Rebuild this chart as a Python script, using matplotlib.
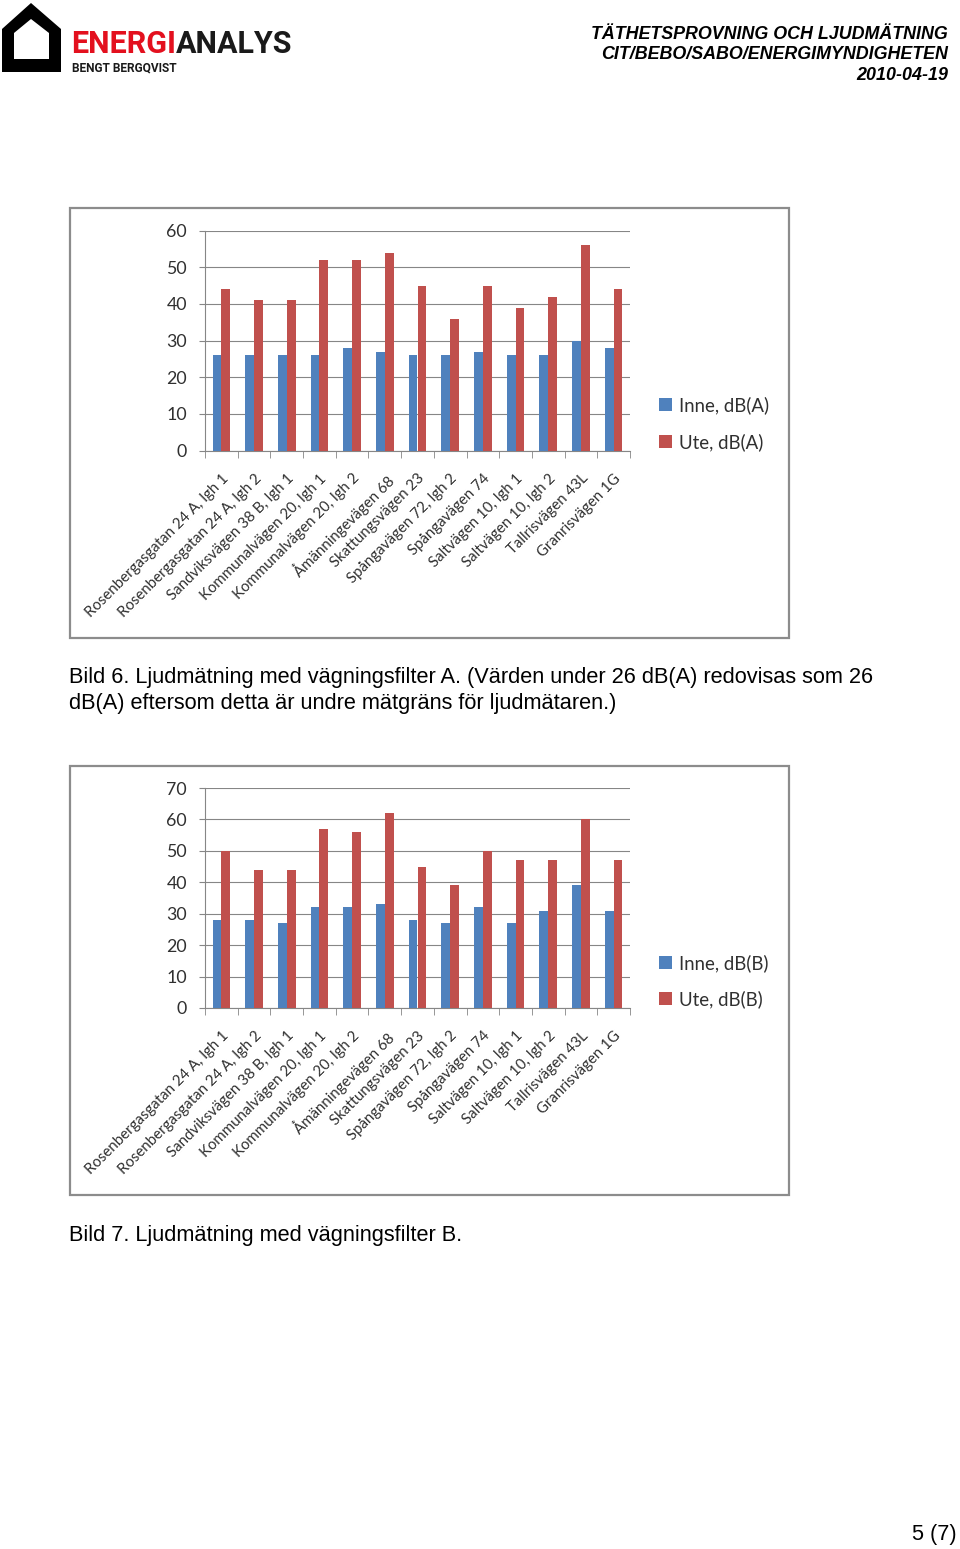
"""Bild 6 / Bild 7 - ljudmätning med vägningsfilter A och B."""

import matplotlib
matplotlib.use("Agg")
import matplotlib.pyplot as plt
from matplotlib.patches import Polygon, Rectangle
import numpy as np

W, H = 960, 1549

# Data
categories = [
    "Rosenbergasgatan 24 A, lgh 1",
    "Rosenbergasgatan 24 A, lgh 2",
    "Sandviksvägen 38 B, lgh 1",
    "Kommunalvägen 20, lgh 1",
    "Kommunalvägen 20, lgh 2",
    "Åmänningevägen 68",
    "Skattungsvägen 23",
    "Spångavägen 72, lgh 2",
    "Spångavägen 74",
    "Saltvägen 10, lgh 1",
    "Saltvägen 10, lgh 2",
    "Tallrisvägen 43L",
    "Granrisvägen 1G",
]
inne_a = [26, 26, 26, 26, 28, 27, 26, 26, 27, 26, 26, 30, 28]
ute_a = [44, 41, 41, 52, 52, 54, 45, 36, 45, 39, 42, 56, 44]
inne_b = [28, 28, 27, 32, 32, 33, 28, 27, 32, 27, 31, 39, 31]
ute_b = [50, 44, 44, 57, 56, 62, 45, 39, 50, 47, 47, 60, 47]

BLUE = "#4F81BD"
RED = "#C0504D"
GRID = "#868686"
FRAME = "#8C8C8C"
TXT = "#303030"
CHART_FONT = ["Lato", "DejaVu Sans"]


def fx(x):
    return x / W


def fy(y):
    return 1 - y / H


def rect(x0, y0, x1, y1):
    # pixel box (top-left, bottom-right) -> figure rect
    return [fx(x0), fy(y1), fx(x1) - fx(x0), fy(y0) - fy(y1)]


def draw_chart(fig, box, plot, inne, ute, ymax, suffix):
    # outer chart frame
    fig.add_artist(Rectangle((fx(box[0]), fy(box[3])), fx(box[2]) - fx(box[0]),
                             fy(box[1]) - fy(box[3]), transform=fig.transFigure,
                             fill=False, edgecolor=FRAME, linewidth=1.6))
    ax = fig.add_axes(rect(*plot))
    x = np.arange(len(categories))
    w = 0.27
    ax.bar(x - w / 2, inne, width=w, color=BLUE, zorder=3,
           label=f"Inne, dB({suffix})")
    ax.bar(x + w / 2, ute, width=w, color=RED, zorder=3,
           label=f"Ute, dB({suffix})")
    ax.set_xlim(-0.5, len(categories) - 0.5)
    ax.set_ylim(0, ymax)
    ax.set_yticks(range(0, ymax + 1, 10))
    ax.yaxis.grid(True, color=GRID, linewidth=0.8, zorder=0)
    for s in ["top", "right"]:
        ax.spines[s].set_visible(False)
    ax.spines["left"].set_color(GRID)
    ax.spines["bottom"].set_color(GRID)
    ax.tick_params(axis="y", colors=GRID, length=4, labelcolor=TXT,
                   labelsize=12.8, pad=9)
    for lab in ax.get_yticklabels():
        lab.set_family(CHART_FONT)
    ax.set_xticks(x)
    ax.set_xticks(np.arange(-0.5, len(categories), 1.0), minor=True)
    ax.tick_params(axis="x", which="major", length=0, pad=15)
    ax.tick_params(axis="x", which="minor", length=5, colors=GRID)
    ax.set_xticklabels(categories, rotation=45, ha="right", va="top",
                       rotation_mode="anchor", fontsize=10.8,
                       family=CHART_FONT, color=TXT)
    leg = ax.legend(loc="center left", bbox_to_anchor=(fx(642), fy(plot[1] + 193)),
                    bbox_transform=fig.transFigure, frameon=False,
                    handlelength=0.7, handleheight=0.7, handletextpad=0.4,
                    labelspacing=1.0, prop={"family": CHART_FONT, "size": 13.4})
    for t in leg.get_texts():
        t.set_color(TXT)
    return ax


fig = plt.figure(figsize=(W / 100, H / 100), dpi=100)
fig.patch.set_facecolor("white")

# Logo
house_out = [(2, 72), (2, 29), (31, 3), (61, 29), (61, 72)]
house_in = [(14, 59), (14, 33), (31, 19), (49, 33), (49, 59)]
fig.add_artist(Polygon([(fx(a), fy(b)) for a, b in house_out], closed=True,
                       transform=fig.transFigure, facecolor="black"))
fig.add_artist(Polygon([(fx(a), fy(b)) for a, b in house_in], closed=True,
                       transform=fig.transFigure, facecolor="white"))
logo_font = ["Liberation Sans Narrow", "Roboto", "DejaVu Sans"]
t1 = fig.text(fx(71), fy(53), "ENERGI", color="#E3101E", fontsize=22,
              fontweight="bold", family=logo_font, ha="left", va="baseline")
fig.canvas.draw()
bb = t1.get_window_extent()
fig.text(bb.x1 / W, fy(53), "ANALYS", color="#1A1A1A", fontsize=22,
         fontweight="bold", family=logo_font, ha="left", va="baseline")
fig.text(fx(72), fy(71), "BENGT BERGQVIST", color="#1A1A1A", fontsize=8.6,
         fontweight="bold", family=logo_font, ha="left", va="baseline")

# Header
head_font = ["Liberation Sans", "DejaVu Sans"]
for y, s in [(39, "TÄTHETSPROVNING OCH LJUDMÄTNING"),
             (59, "CIT/BEBO/SABO/ENERGIMYNDIGHETEN"),
             (80, "2010-04-19")]:
    fig.text(fx(948), fy(y), s, ha="right", va="baseline", fontsize=12.9,
             fontweight="bold", fontstyle="italic", family=head_font)

# Charts
draw_chart(fig, (70, 208, 789, 638), (205, 230.5, 630, 450.5), inne_a, ute_a, 60, "A")
draw_chart(fig, (70, 766, 789, 1195), (205, 788, 630, 1008), inne_b, ute_b, 70, "B")

# Captions
cap = dict(ha="left", va="baseline", fontsize=15.7, family=head_font)
fig.text(fx(69), fy(683), "Bild 6. Ljudmätning med vägningsfilter A. (Värden under 26 dB(A) "
         "redovisas som 26", **cap)
fig.text(fx(69), fy(709), "dB(A) eftersom detta är undre mätgräns för ljudmätaren.)", **cap)
fig.text(fx(69), fy(1241), "Bild 7. Ljudmätning med vägningsfilter B.", **cap)
fig.text(fx(957), fy(1540), "5 (7)", ha="right", va="baseline", fontsize=15.7,
         family=head_font)

fig.savefig("out.png", dpi=100, facecolor="white")
